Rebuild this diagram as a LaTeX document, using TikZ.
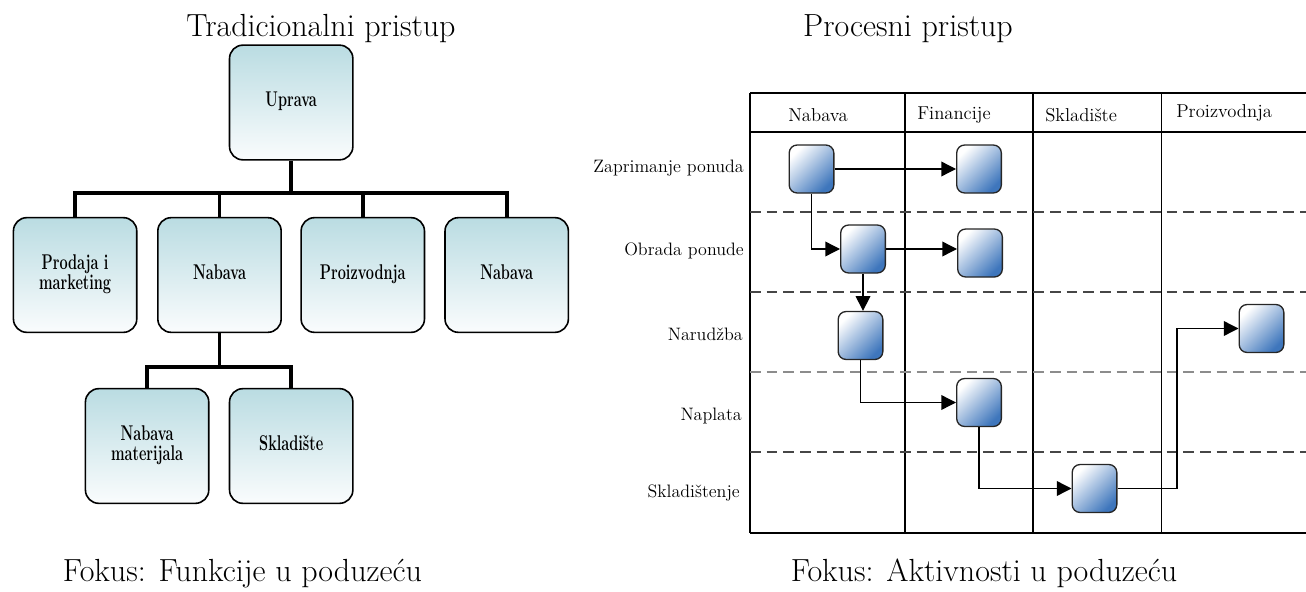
\documentclass[tikz,border=0pt]{standalone}
\usetikzlibrary{arrows.meta,calc}
\definecolor{tealtop}{RGB}{186,220,226}
\definecolor{tealbot}{RGB}{250,252,253}
\definecolor{boxblue}{RGB}{62,118,188}
\definecolor{dashgray}{RGB}{70,70,70}
\definecolor{lightdash}{RGB}{140,140,140}
\newcommand{\cond}[1]{\scalebox{0.68}[1]{\begin{tabular}{@{}c@{}}#1\end{tabular}}}
\tikzset{
  orgbox/.style={draw=black, line width=1.2pt, rounded corners=10pt,
    top color=tealtop, bottom color=tealbot,
    minimum width=92.5pt, minimum height=86pt, align=center,
    font=\bfseries\fontsize{16}{15}\selectfont, inner sep=1pt},
  actbox/.style={draw=black!85, line width=1pt, rounded corners=6pt,
    top color=white, bottom color=boxblue, shading angle=45,
    minimum width=33.5pt, minimum height=36pt, inner sep=0pt},
  treeline/.style={line width=2.8pt, line join=miter},
  tabline/.style={line width=1pt},
  lanedash/.style={line width=1pt, dashgray, dash pattern=on 8pt off 4.5pt},
  flow/.style={line width=1pt, -{Triangle[length=11pt,width=11pt]}},
  rowlab/.style={anchor=east, font=\fontsize{13.5}{16}\selectfont, inner sep=0pt},
  collab/.style={anchor=west, font=\fontsize{14}{16}\selectfont, inner sep=0pt},
  bigtitle/.style={anchor=base, font=\fontsize{24}{28}\selectfont, inner sep=0pt},
  foot/.style={anchor=base, font=\fontsize{24}{28}\selectfont, inner sep=0pt}
}
\begin{document}
\begin{tikzpicture}[x=0.75pt,y=-0.75pt]
\useasboundingbox (0,0) rectangle (1306,592);

% ---------- left: traditional ----------
\node[bigtitle] (t1) at (321,37) {Tradicionalni pristup};
\node[orgbox] (up) at (291.2,102.5) {\cond{Uprava}};
\node[orgbox] (c1) at (75.1,275) {\cond{Prodaja i\\marketing}};
\node[orgbox] (c2) at (219.5,275) {\cond{Nabava}};
\node[orgbox] (c3) at (362.8,275) {\cond{Proizvodnja}};
\node[orgbox] (c4) at (506.7,275) {\cond{Nabava}};
\node[orgbox] (g1) at (147.1,446) {\cond{Nabava\\materijala}};
\node[orgbox] (g2) at (291.2,446) {\cond{Skladište}};

\coordinate (bus) at (291.2,193);
\coordinate (bus2) at (219.5,367);
\draw[treeline] (up.south) -- (bus);
\draw[treeline] (c1.north) |- (bus) -| (c4.north);
\draw[treeline] (c2.north) -- (c2.north |- bus);
\draw[treeline] (c3.north) -- (c3.north |- bus);
\draw[treeline] (c2.south) -- (bus2);
\draw[treeline] (g1.north) |- (bus2) -| (g2.north);

\node[foot] (f1) at (242.5,581) {Fokus: Funkcije u poduzeću};

% ---------- right: process ----------
\node[bigtitle] (t2) at (908,37) {Procesni pristup};

% table frame
\draw[tabline] (750,93) -- (1306,93);
\draw[tabline] (750,132) -- (1306,132);
\draw[tabline] (750,93) -- (750,533);
\draw[tabline] (905,93) -- (905,533);
\draw[tabline] (1033,93) -- (1033,533);
\draw[tabline] (1161.5,93) -- (1161.5,533);
\draw[line width=1.6pt] (750,533) -- (1306,533);
\draw[lanedash] (750,212) -- (1306,212);
\draw[lanedash] (750,292) -- (1306,292);
\draw[lanedash, lightdash] (750,372) -- (1306,372);
\draw[lanedash] (750,452) -- (1306,452);

% column headers
\node[collab] (h1) at (788,115) {Nabava};
\node[collab] (h2) at (917,115) {Financije};
\node[collab] (h3) at (1045,115) {Skladište};
\node[collab] (h4) at (1176,113) {Proizvodnja};

% row labels
\node[rowlab] (r1) at (744,168) {Zaprimanje ponuda};
\node[rowlab] (r2) at (744,251) {Obrada ponude};
\node[rowlab] (r3) at (743,334) {Narudžba};
\node[rowlab] (r4) at (742,416) {Naplata};
\node[rowlab] (r5) at (740,493) {Skladištenje};

% activity boxes
\node[actbox] (a1) at (811.5,169) {};
\node[actbox] (a2) at (979,169) {};
\node[actbox] (b1) at (863,249) {};
\node[actbox] (b2) at (980,253) {};
\node[actbox] (k1) at (860.5,335.5) {};
\node[actbox] (k4) at (1261.5,328.5) {};
\node[actbox] (d2) at (979,402.5) {};
\node[actbox] (e3) at (1094.5,488.5) {};

\coordinate (turn) at (1177,488.5);

% flows
\draw[flow] (a1.east) -- (a2.west);
\draw[flow] (a1.south) |- (b1.west);
\draw[flow] (b1.east) -- (b1.east -| b2.west);
\draw[flow] (b1.south) -- (b1.south |- k1.north);
\draw[flow] (k1.south) |- (d2.west);
\draw[flow] (d2.south) |- (e3.west);
\draw[flow] (e3.east) -- (turn) |- (k4.west);

\node[foot] (f2) at (984,581) {Fokus: Aktivnosti u poduzeću};
\end{tikzpicture}
\end{document}
